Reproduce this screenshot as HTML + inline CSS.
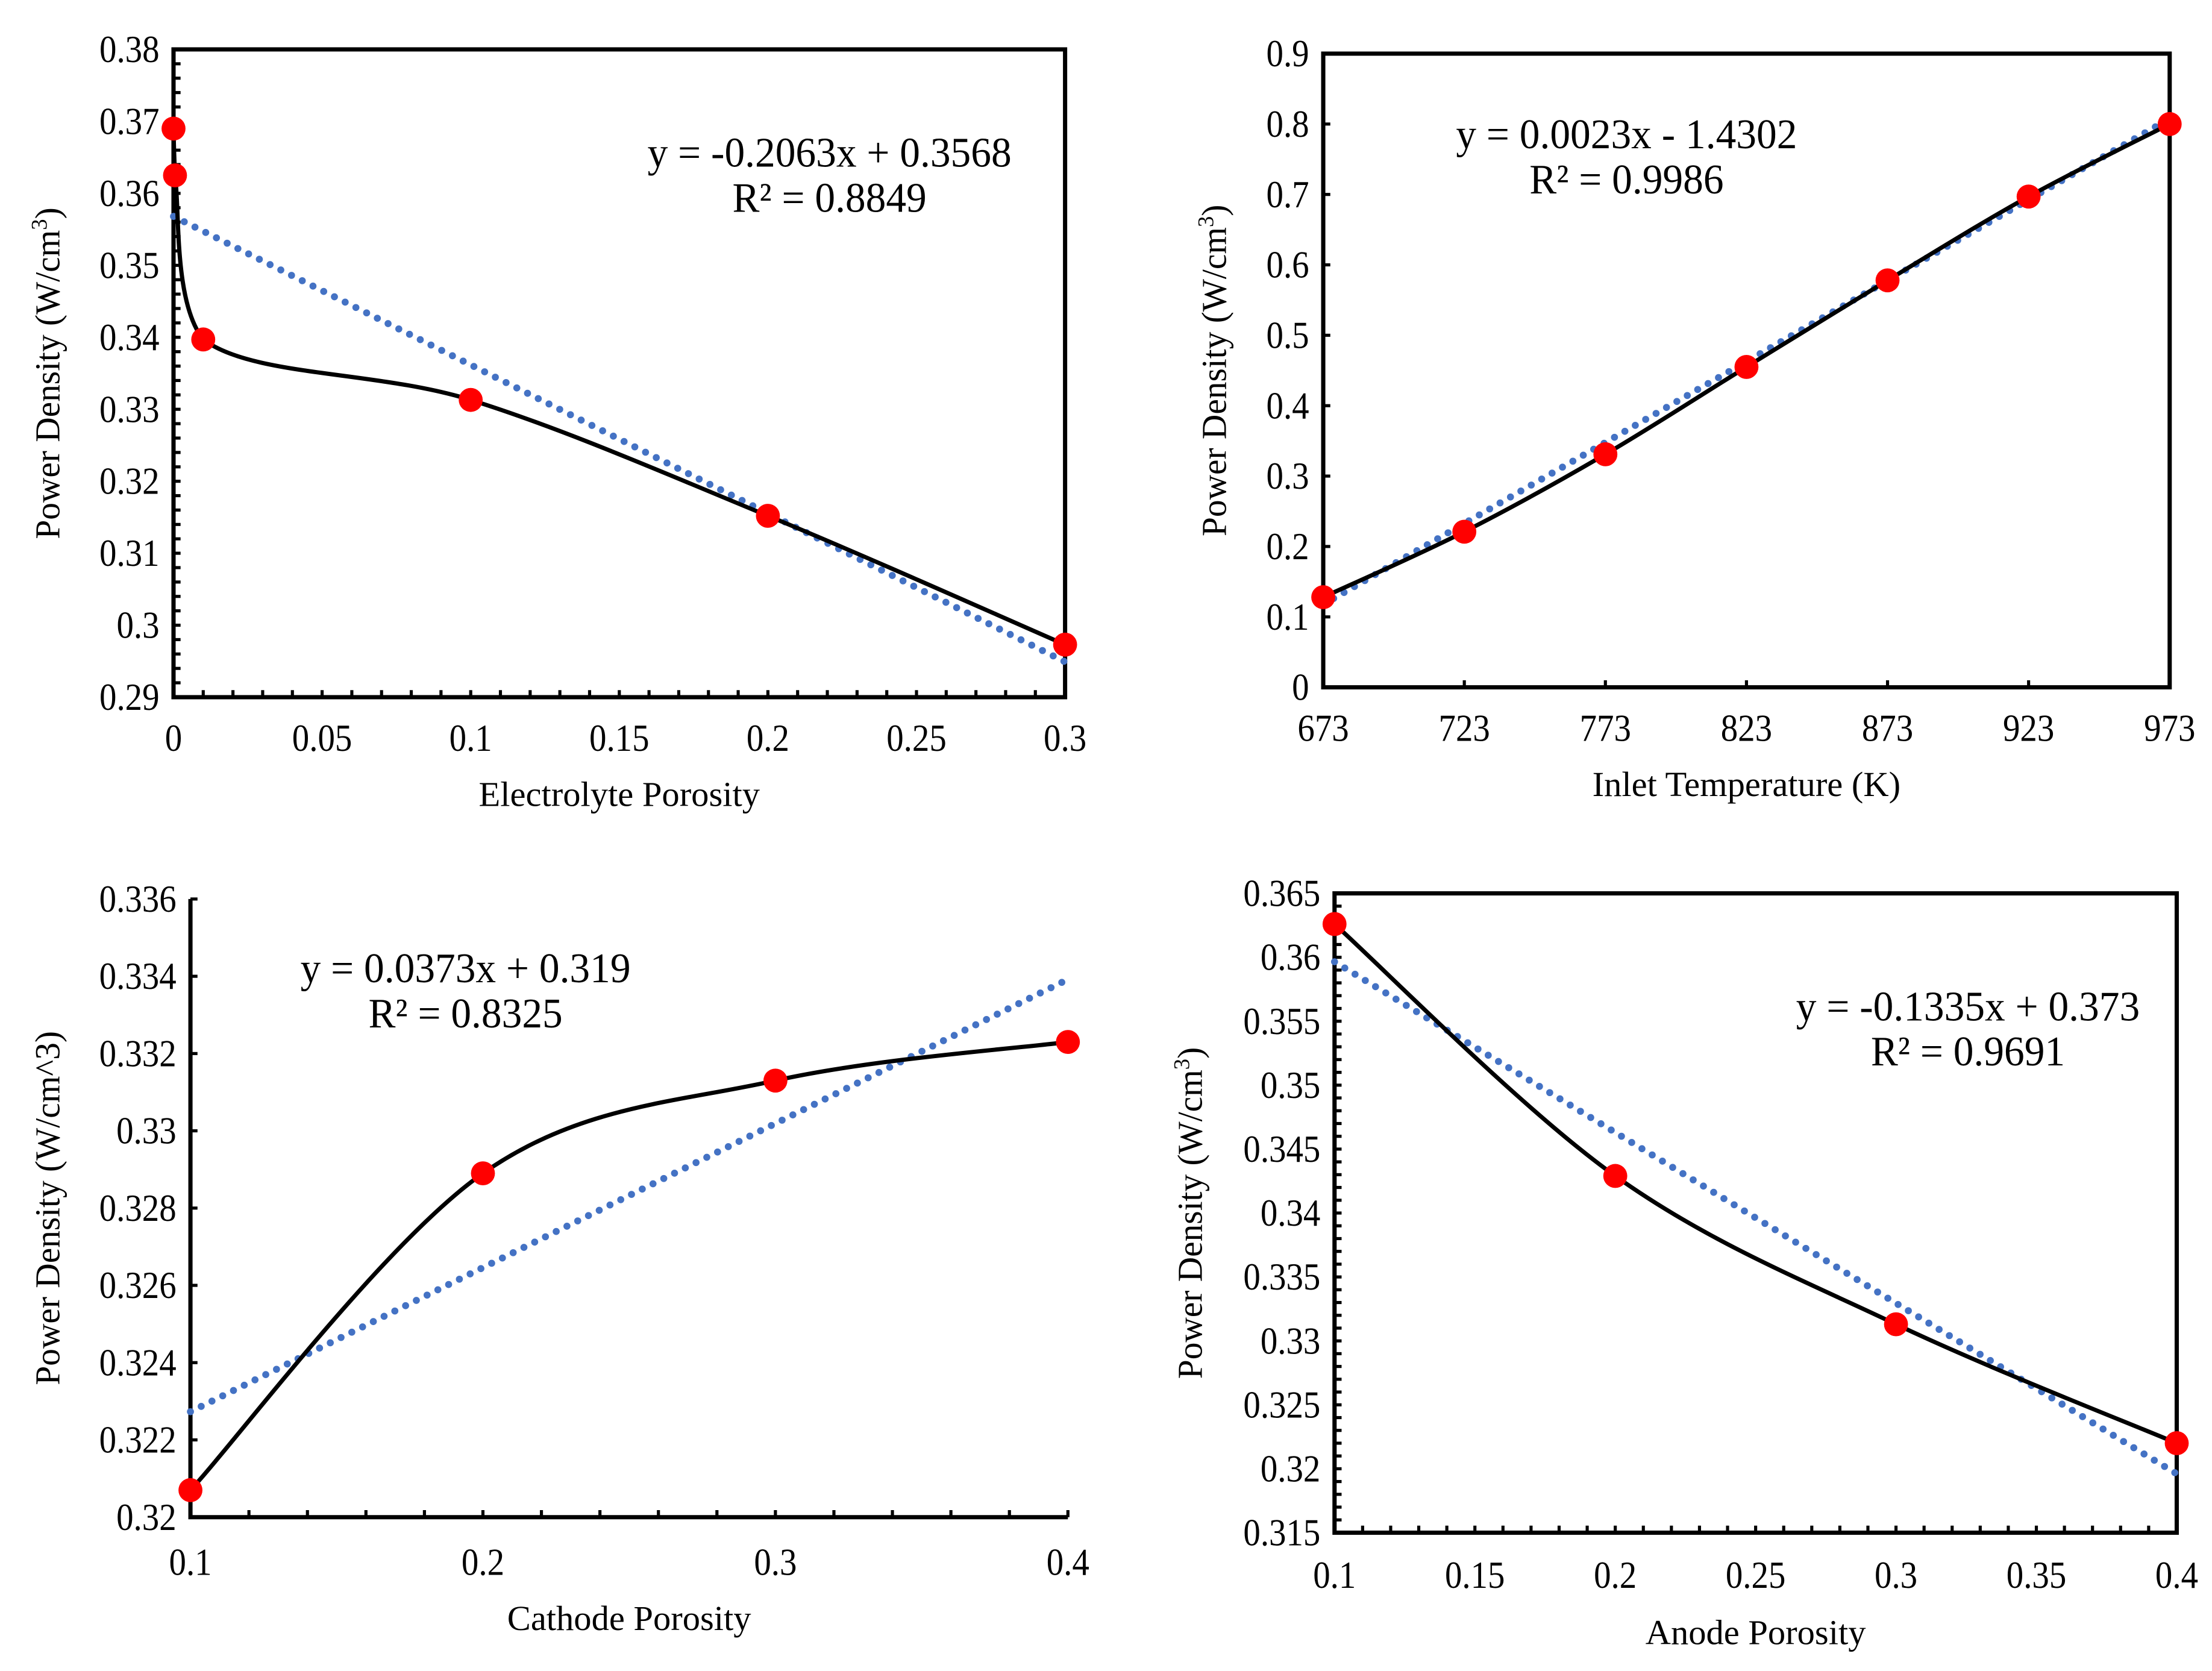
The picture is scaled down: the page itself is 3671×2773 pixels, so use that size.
<!DOCTYPE html>
<html><head><meta charset="utf-8"><style>
html,body{margin:0;padding:0;background:#fff;}
svg{display:block;}
text{font-family:"Liberation Serif",serif;fill:#000;}
</style></head><body>
<svg id="s" width="3671" height="2773" viewBox="0 0 1568 1184" preserveAspectRatio="none"></svg>
<script>
// Chart 1: Electrolyte porosity
const c1X = [0, 0.0005, 0.01, 0.1, 0.2, 0.3];
const c1Y = [0.369, 0.3625, 0.3397, 0.3313, 0.3152, 0.2973];
const c1Trend = [-0.2063, 0.3568];
const c1XTicks = ["0","0.05","0.1","0.15","0.2","0.25","0.3"];
const c1YTicks = ["0.29","0.3","0.31","0.32","0.33","0.34","0.35","0.36","0.37","0.38"];
// Chart 2: Inlet temperature
const c2X = [673, 723, 773, 823, 873, 923, 973];
const c2Y = [0.128, 0.221, 0.331, 0.455, 0.578, 0.697, 0.800];
const c2Trend = [0.0023, -1.4302];
const c2XTicks = ["673","723","773","823","873","923","973"];
const c2YTicks = ["0","0.1","0.2","0.3","0.4","0.5","0.6","0.7","0.8","0.9"];
// Chart 3: Cathode porosity
const c3X = [0.1, 0.2, 0.3, 0.4];
const c3Y = [0.3207, 0.3289, 0.3313, 0.3323];
const c3Trend = [0.0373, 0.319];
const c3XTicks = ["0.1","0.2","0.3","0.4"];
const c3YTicks = ["0.32","0.322","0.324","0.326","0.328","0.33","0.332","0.334","0.336"];
// Chart 4: Anode porosity
const c4X = [0.1, 0.2, 0.3, 0.4];
const c4Y = [0.3626, 0.3429, 0.3313, 0.3220];
const c4Trend = [-0.1335, 0.373];
const c4XTicks = ["0.1","0.15","0.2","0.25","0.3","0.35","0.4"];
const c4YTicks = ["0.315","0.32","0.325","0.33","0.335","0.34","0.345","0.35","0.355","0.36","0.365"];

const NS="http://www.w3.org/2000/svg";
const svg=document.getElementById('s');
function el(tag,attrs,parent){const e=document.createElementNS(NS,tag);for(const k in attrs)e.setAttribute(k,attrs[k]);(parent||svg).appendChild(e);return e;}
function txt(str,x,y,size,anchor,parent,fill,sx){sx=sx||0.9;const t=el('text',{x:x,y:y,'font-size':size,'text-anchor':anchor||'middle',transform:`translate(${x} 0) scale(${sx} 1) translate(${-x} 0)`},parent);if(fill)t.setAttribute('fill',fill);t.textContent=str;return t;}

function chart(cfg){
  const g=el('g',{});
  
  
  const xs=v=>cfg.x0+(v-cfg.xmin)/(cfg.xmax-cfg.xmin)*(cfg.x1-cfg.x0);
  const ys=v=>cfg.y0+(v-cfg.ymin)/(cfg.ymax-cfg.ymin)*(cfg.y1-cfg.y0);
  const mt=el('g',{stroke:'#000','stroke-width':2.2},g);
  
  
  for(let i=0;i<=cfg.yMinorN;i++){const y=cfg.y0+(cfg.y1-cfg.y0)*i/cfg.yMinorN;el('line',{x1:cfg.x0,x2:cfg.x0+5,y1:y,y2:y},mt);}
  for(let i=0;i<=cfg.xMinorN;i++){const x=cfg.x0+(cfg.x1-cfg.x0)*i/cfg.xMinorN;el('line',{x1:x,x2:x,y1:cfg.y0,y2:cfg.y0-5},mt);}
  if(cfg.box){const r=el('rect',{x:cfg.x0,y:cfg.y1,width:cfg.x1-cfg.x0,height:cfg.y0-cfg.y1,fill:'none',stroke:'#000','stroke-width':3},g);
    }
  else{const a=el('path',{d:`M${cfg.x0},${cfg.y1}V${cfg.y0}H${cfg.x1}`,fill:'none',stroke:'#000','stroke-width':3},g);
    }
  cfg.yT.forEach((s,i)=>{const v=cfg.ymin+(cfg.ymax-cfg.ymin)*i/(cfg.yT.length-1);const t=txt(s,cfg.x0-10,ys(v)+9,27,'end',g);
    });
  cfg.xT.forEach((s,i)=>{const v=cfg.xmin+(cfg.xmax-cfg.xmin)*i/(cfg.xT.length-1);const t=txt(s,xs(v),cfg.xLabY,27,'middle',g,cfg.xCol);
    });
  const xt=txt(cfg.xTitle,(cfg.x0+cfg.x1)/2,cfg.xTitleY,25,'middle',g,null,1.0);
  
  const yt=el('text',{x:0,y:0,'font-size':25,'text-anchor':'middle',transform:`translate(${cfg.yTitleX} ${(cfg.y0+cfg.y1)/2}) rotate(-90) scale(0.98 1)`},g);
  
  yt.innerHTML=cfg.yTitle;
  const tl=el('line',{x1:xs(cfg.xmin),y1:ys(cfg.tr[0]*cfg.xmin+cfg.tr[1]),x2:xs(cfg.xmax),y2:ys(cfg.tr[0]*cfg.xmax+cfg.tr[1]),stroke:'#4472C4','stroke-width':5,'stroke-linecap':'round','stroke-dasharray':'0 8.5'},g);
  
  const P=cfg.X.map((v,i)=>[xs(v),ys(cfg.Y[i])]);
  let d=`M${P[0][0]},${P[0][1]}`;
  for(let i=0;i<P.length-1;i++){const p0=P[Math.max(0,i-1)],p1=P[i],p2=P[i+1],p3=P[Math.min(P.length-1,i+2)];
    const c1=[Math.max(cfg.x0,p1[0]+(p2[0]-p0[0])/6),p1[1]+(p2[1]-p0[1])/6],c2=[Math.max(cfg.x0,p2[0]-(p3[0]-p1[0])/6),p2[1]-(p3[1]-p1[1])/6];
    d+=`C${c1[0]},${c1[1]} ${c2[0]},${c2[1]} ${p2[0]},${p2[1]}`;}
  const cv=el('path',{d:d,fill:'none',stroke:'#000','stroke-width':3},g);
  
  P.forEach(p=>{const c=el('circle',{cx:p[0],cy:p[1],r:8.5,fill:'#FF0000'},g);
    });
  const e1=txt(cfg.eq,cfg.eqX,cfg.eqY,30,'middle',g,null,0.96);
  
  const e2=txt(cfg.r2,cfg.eqX,cfg.eqY+32,30,'middle',g,null,0.96);
  
}
const yTitle='Power Density (W/cm<tspan font-size="16" dy="-9">3</tspan><tspan dy="9">)</tspan>';
chart({name:'electrolyte-porosity-chart',X:c1X,Y:c1Y,tr:c1Trend,xT:c1XTicks,yT:c1YTicks,xmin:0,xmax:0.3,ymin:0.29,ymax:0.38,
  x0:123,x1:755,y0:494,y1:35,box:true,xMinorN:30,yMinorN:45,xLabY:532,xTitle:'Electrolyte Porosity',xTitleY:571,yTitleX:42,yTitle:yTitle,
  eq:'y = -0.2063x + 0.3568',r2:'R² = 0.8849',eqX:588,eqY:118});
chart({name:'inlet-temperature-chart',X:c2X,Y:c2Y,tr:c2Trend,xT:c2XTicks,yT:c2YTicks,xmin:673,xmax:973,ymin:0,ymax:0.9,
  x0:938,x1:1538,y0:487,y1:38,box:true,xMinorN:6,yMinorN:9,xLabY:525,xTitle:'Inlet Temperature (K)',xTitleY:564,yTitleX:869,yTitle:yTitle,
  eq:'y = 0.0023x - 1.4302',r2:'R² = 0.9986',eqX:1153,eqY:105});
chart({name:'cathode-porosity-chart',X:c3X,Y:c3Y,tr:c3Trend,xT:c3XTicks,yT:c3YTicks,xmin:0.1,xmax:0.4,ymin:0.32,ymax:0.336,
  x0:135,x1:757,y0:1075,y1:637,box:false,xMinorN:15,yMinorN:8,xLabY:1116,xTitle:'Cathode Porosity',xTitleY:1155,yTitleX:42,
  yTitle:'Power Density (W/cm^3)',eq:'y = 0.0373x + 0.319',r2:'R² = 0.8325',eqX:330,eqY:696});
chart({name:'anode-porosity-chart',X:c4X,Y:c4Y,tr:c4Trend,xT:c4XTicks,yT:c4YTicks,xmin:0.1,xmax:0.4,ymin:0.315,ymax:0.365,
  x0:946,x1:1543,y0:1086,y1:633,box:true,xMinorN:30,yMinorN:50,xLabY:1125,xCol:'#7f7f7f',xTitle:'Anode Porosity',xTitleY:1165,yTitleX:852,yTitle:yTitle,
  eq:'y = -0.1335x + 0.373',r2:'R² = 0.9691',eqX:1395,eqY:723});
</script>
</body></html>
